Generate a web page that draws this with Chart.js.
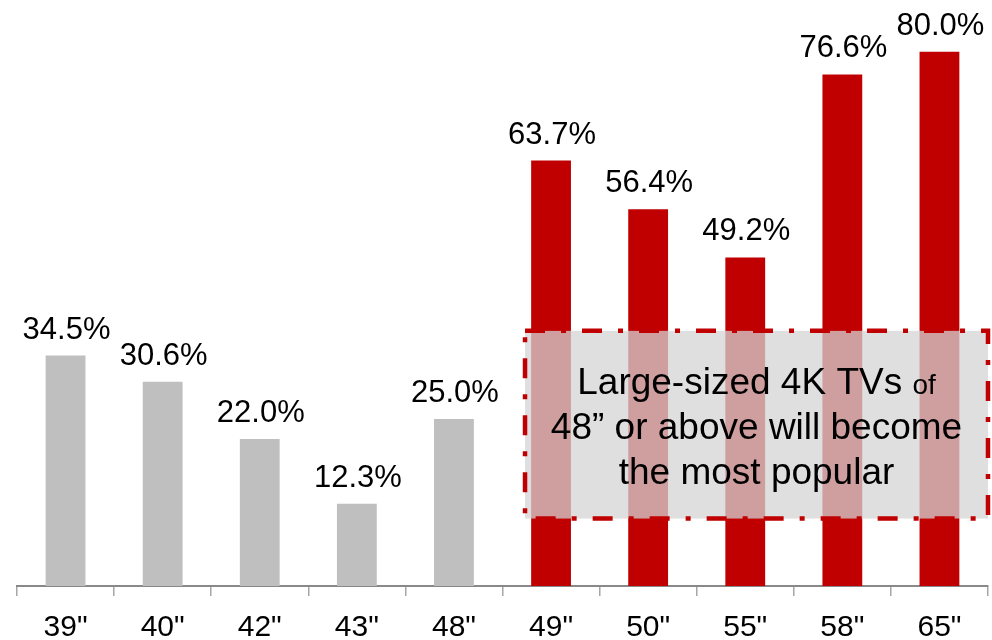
<!DOCTYPE html>
<html>
<head>
<meta charset="utf-8">
<script src="https://cdn.jsdelivr.net/npm/chart.js@4/dist/chart.umd.min.js"></script>
<style>
  html, body { margin: 0; padding: 0; background: #fff; }
  #wrap { width: 992px; height: 640px; position: relative; }
</style>
</head>
<body>
<div id="wrap"><canvas id="chart"></canvas></div>
<script>
// 4K TV penetration by screen size.
const sizes = ['39"', '40"', '42"', '43"', '48"', '49"', '50"', '55"', '58"', '65"'];
const shares = [34.5, 30.6, 22.0, 12.3, 25.0, 63.7, 56.4, 49.2, 76.6, 80.0];
const highlightFrom = '49"';
const noteLines = [["Large-sized 4K TVs ", "of"], ["48\u201d or above will become"], ["the most popular"]];

(function () {
  const FONT = '"Liberation Sans", Arial, sans-serif';
  const GREY = "#bfbfbf", RED = "#c00000";
  const hiIdx = sizes.indexOf(highlightFrom);

  // value labels above each bar
  const valueLabels = {
    id: "valueLabels",
    afterDatasetsDraw(chart) {
      const ctx = chart.ctx;
      const meta = chart.getDatasetMeta(0);
      ctx.save();
      ctx.font = "31px " + FONT;
      ctx.fillStyle = "#000";
      ctx.textAlign = "center";
      ctx.textBaseline = "alphabetic";
      meta.data.forEach((bar, i) => {
        ctx.fillText(shares[i].toFixed(1) + "%", bar.x + 1, bar.y - 17);
      });
      ctx.restore();
    }
  };

  // dash-dot callout box laid over the large sizes
  const callout = {
    id: "callout",
    afterDatasetsDraw(chart) {
      const { ctx, scales: { x, y } } = chart;
      const left = x.getPixelForValue(4.732), right = x.getPixelForValue(9.5);
      const top = y.getPixelForValue(38.2), bottom = y.getPixelForValue(10.1);
      ctx.save();
      ctx.fillStyle = "rgba(212,212,212,0.75)";
      ctx.fillRect(left, top, right - left, bottom - top);
      ctx.strokeStyle = RED;
      ctx.lineWidth = 4.5;
      ctx.setLineDash([20, 16, 5, 16]);
      ctx.strokeRect(left, top, right - left, bottom - top);
      ctx.setLineDash([]);
      const cx = (left + right) / 2, cy = (top + bottom) / 2;
      ctx.fillStyle = "#000";
      ctx.textBaseline = "alphabetic";
      ctx.textAlign = "left";
      noteLines.forEach((parts, i) => {
        const fonts = parts.map((_, j) => (j === 1 ? "28px " : "37px ") + FONT);
        const widths = parts.map((p, j) => { ctx.font = fonts[j]; return ctx.measureText(p).width; });
        let px = cx - widths.reduce((a, b) => a + b, 0) / 2;
        const py = cy + (i - 1) * 45 + 14;
        parts.forEach((p, j) => { ctx.font = fonts[j]; ctx.fillText(p, px, py); px += widths[j]; });
      });
      ctx.restore();
    }
  };

  new Chart(document.getElementById("chart"), {
    type: "bar",
    data: {
      labels: sizes,
      datasets: [{
        data: shares,
        backgroundColor: (c) => (c.dataIndex >= hiIdx ? RED : GREY),
        borderWidth: 0,
        categoryPercentage: 1.0,
        barPercentage: 0.41
      }]
    },
    options: {
      responsive: true, maintainAspectRatio: false, animation: false,
      layout: { padding: { left: 17, right: 4, top: 0, bottom: 0 } },
      plugins: { legend: { display: false }, tooltip: { enabled: false } },
      scales: {
        x: {
          afterFit: (s) => { s.height = 54; },
          grid: { display: true, drawOnChartArea: false, offset: true, tickLength: 10, color: "#a6a6a6", lineWidth: 1.5 },
          border: { display: true, color: "#898989", width: 2 },
          ticks: { color: "#000", font: { family: FONT, size: 30 }, padding: 14, maxRotation: 0 }
        },
        y: { display: false, min: 0, max: 87.74 }
      }
    },
    plugins: [callout, valueLabels]
  });
})();
</script>
</body>
</html>
